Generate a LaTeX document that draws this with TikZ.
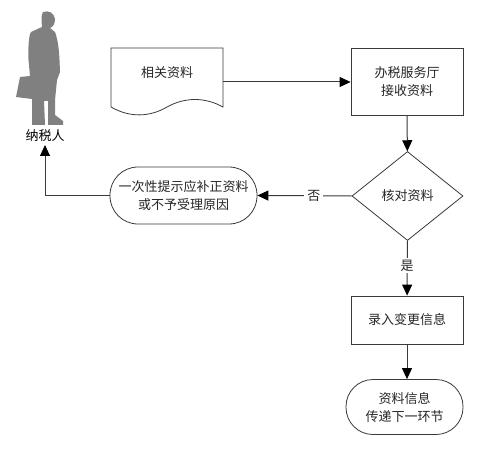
\documentclass[tikz,border=0pt]{standalone}
\usepackage{fontspec}
\setmainfont{Liberation Serif}
\newfontfamily\cjk{Noto Sans CJK SC}[Scale=1]
\usetikzlibrary{shapes.geometric,arrows.meta}
\definecolor{ln}{HTML}{3A3A3A}
\definecolor{fig}{HTML}{808080}
\tikzset{
 x=1pt,y=-1pt,
 lab/.style={font=\cjk\fontsize{13}{18}\selectfont,text=black!85,align=center,inner sep=0pt},
 flowbox/.style={draw=ln,line width=0.8pt,fill=white,minimum width=112pt,inner sep=0pt,lab},
 flow/.style={draw=ln,line width=1pt,-{Triangle[length=11pt,width=10pt,color=black]}},
}
\begin{document}
\begin{tikzpicture}
\useasboundingbox (0,0) rectangle (481,449);
\fill[white] (0,0) rectangle (481,449);
% person silhouette
\fill[fig] (43,12) .. controls (49,10) and (54,13) .. (55,19) .. controls (55,24) and (53,27) .. (50,28) -- (55,32) .. controls (58,40) and (59,50) .. (59.5,60) -- (60,72) -- (57,80) -- (55,100) -- (55,115) -- (63,121) -- (63,125) -- (48,125) -- (48,101) -- (44,101) -- (45,125) -- (32,125) -- (32,99) -- (16,97) -- (20,77) -- (30,76) -- (28.5,60) .. controls (28,45) and (29,35) .. (31,32) -- (42,27) -- (41.5,20) .. controls (41.5,16) and (42,13) .. (43,12) -- cycle;
\node[lab,font=\cjk\fontsize{13}{14}\selectfont,text=black] (person) at (45,136) {纳税人};
\coordinate (personfoot) at (45,145);
% document
\path[draw=ln,line width=0.8pt,fill=white] (111,48) -- (223,48) -- (223,107) .. controls (205,97) and (185,97) .. (167,107) .. controls (150,117) and (130,118) .. (111,107) -- cycle;
\node[lab] (doc) at (167,73) {相关资料};
\coordinate (docr) at (223,82);
% boxes
\node[flowbox,minimum height=67pt] (recv) at (407,82) {办税服务厅\\接收资料};
\node[flowbox,diamond,minimum width=111pt,minimum height=89pt,aspect=1.25] (check) at (407.5,196) {核对资料};
\node[flowbox,rounded corners=28pt,minimum width=147pt,minimum height=57pt] (notice) at (183.5,195.5) {一次性提示应补正资料\\或不予受理原因};
\node[flowbox,minimum height=48pt] (enter) at (407,320) {录入变更信息};
\node[flowbox,rounded corners=27pt,minimum width=117pt,minimum height=55pt] (next) at (404.5,407) {资料信息\\传递下一环节};
% connectors
\draw[flow] (docr) -- (docr -| recv.west);
\draw[flow] (recv) -- (check);
\draw[flow] (check.west) -- node[fill=white,lab,inner xsep=3pt,inner ysep=2pt,pos=0.4]{否} (notice.east);
\draw[flow] (notice.west) -- (45,195.5) -- (personfoot);
\draw[flow] (check) -- node[fill=white,lab,inner ysep=2pt,pos=0.45]{是} (enter);
\draw[flow] (enter.south) -- (enter.south |- next.north);
\end{tikzpicture}
\end{document}
